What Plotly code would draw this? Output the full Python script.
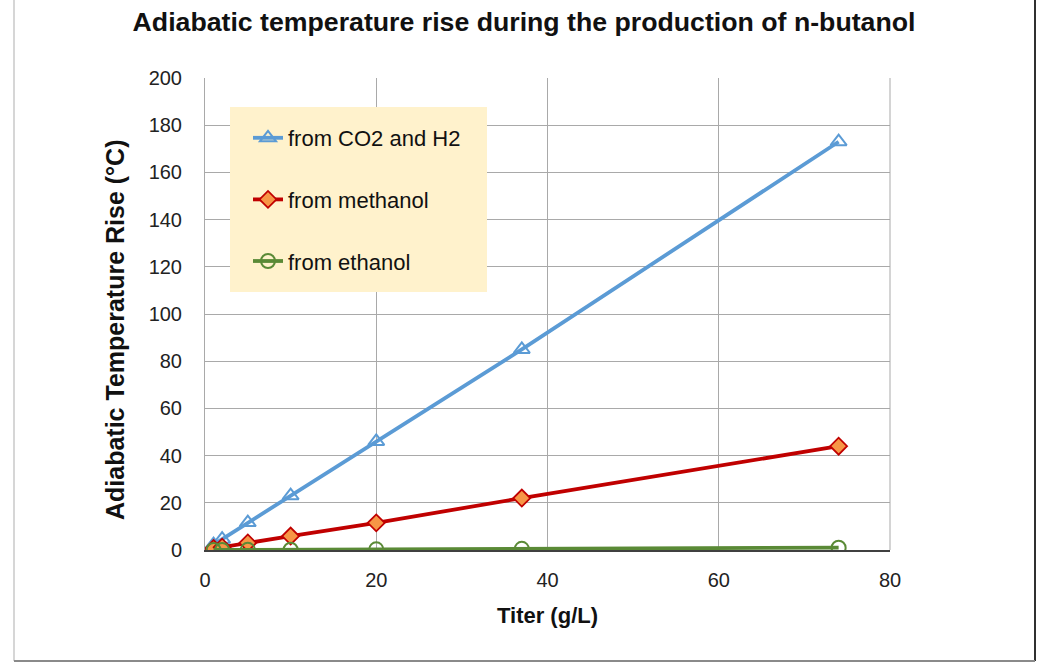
import plotly.graph_objects as go

titer = [1, 2, 5, 10, 20, 37, 74]
co2_h2 = [2.3, 4.6, 11.6, 23.0, 46.0, 85.0, 173.0]
methanol = [0.6, 1.2, 3.0, 5.9, 11.5, 22.0, 44.0]
ethanol = [0.02, 0.03, 0.07, 0.13, 0.27, 0.5, 1.0]

names = ["from CO2 and H2", "from methanol", "from ethanol"]

FONT = "Liberation Sans, Arial, sans-serif"

fig = go.Figure()
fig.add_trace(go.Scatter(
    x=titer, y=co2_h2, name=names[0], mode="lines+markers", legendgroup="a",
    line=dict(color="#5B9BD5", width=3.8),
    marker=dict(symbol="triangle-up-open", size=14, color="#5B9BD5", line=dict(width=2, color="#5B9BD5")),
))
fig.add_trace(go.Scatter(
    x=titer, y=methanol, name=names[1], mode="lines+markers", legendgroup="b",
    line=dict(color="#C00000", width=3.8),
    marker=dict(symbol="diamond", size=13, color="#F79646", line=dict(width=1.8, color="#C00000")),
))
fig.add_trace(go.Scatter(
    x=titer, y=ethanol, name=names[2], mode="lines+markers", legendgroup="c",
    line=dict(color="#5A8A36", width=3.8),
    marker=dict(symbol="circle-open", size=14, color="#5A8A36", line=dict(width=2, color="#5A8A36")),
))

L, R, T, B = 205, 890, 78, 550
W, H = 1037, 664
pw, ph = R - L, B - T


def px(xp):
    return (xp - L) / pw


def py(yp):
    return (B - yp) / ph


fig.update_layout(
    width=W, height=H,
    margin=dict(l=L, r=W - R, t=T, b=H - B, pad=0),
    paper_bgcolor="white", plot_bgcolor="white",
    font=dict(family=FONT, size=20, color="#222222"),
    title=dict(text="<b>Adiabatic temperature rise during the production of n-butanol</b>",
               x=524 / W, xanchor="center", y=1 - 22 / H, yanchor="middle",
               font=dict(size=26.7, color="#111111", family=FONT)),
    xaxis=dict(range=[0, 80], dtick=20, showgrid=True, gridcolor="#A9A9A9", gridwidth=1,
               zeroline=False, showline=True, linecolor="#404040", linewidth=1.5,
               ticks="", ticklabelstandoff=11, mirror=False, tickfont=dict(size=20),
               title=dict(text="<b>Titer (g/L)</b>", font=dict(size=22, color="#111111"), standoff=18)),
    yaxis=dict(range=[0, 200], dtick=20, showgrid=True, gridcolor="#A9A9A9", gridwidth=1,
               zeroline=False, showline=True, linecolor="#A9A9A9", linewidth=1,
               ticks="", ticklabelstandoff=18, tickfont=dict(size=20)),
    annotations=[
        dict(text="<b>Adiabatic Temperature Rise (°C)</b>", textangle=-90,
             xref="paper", yref="paper", x=px(115), y=py(330), xanchor="center", yanchor="middle",
             showarrow=False, font=dict(size=25, color="#111111")),
    ],
    legend=dict(x=px(248), y=py(117), xanchor="left", yanchor="top",
                bgcolor="rgba(0,0,0,0)", borderwidth=0,
                traceorder="grouped", tracegroupgap=30,
                font=dict(size=22, color="#111111"), itemwidth=30),
    shapes=[
        dict(type="rect", xref="paper", yref="paper", x0=px(230), x1=px(487), y0=py(292), y1=py(107),
             fillcolor="#FFF2CC", line=dict(width=0), layer="above"),
        dict(type="line", xref="paper", yref="paper", x0=1, x1=1, y0=0, y1=1,
             line=dict(color="#A9A9A9", width=1)),
        dict(type="line", xref="paper", yref="paper", x0=px(14), x1=px(14), y0=py(661), y1=py(-5),
             line=dict(color="#C8C8C8", width=1.5)),
        dict(type="line", xref="paper", yref="paper", x0=px(1035), x1=px(1035), y0=py(661), y1=py(-5),
             line=dict(color="#303030", width=2)),
        dict(type="line", xref="paper", yref="paper", x0=px(14), x1=px(1035), y0=py(661), y1=py(661),
             line=dict(color="#8A8A8A", width=2)),
    ],
)

fig.write_html("out.html", config={"displayModeBar": False},
               post_script="document.body.style.margin='0';")
